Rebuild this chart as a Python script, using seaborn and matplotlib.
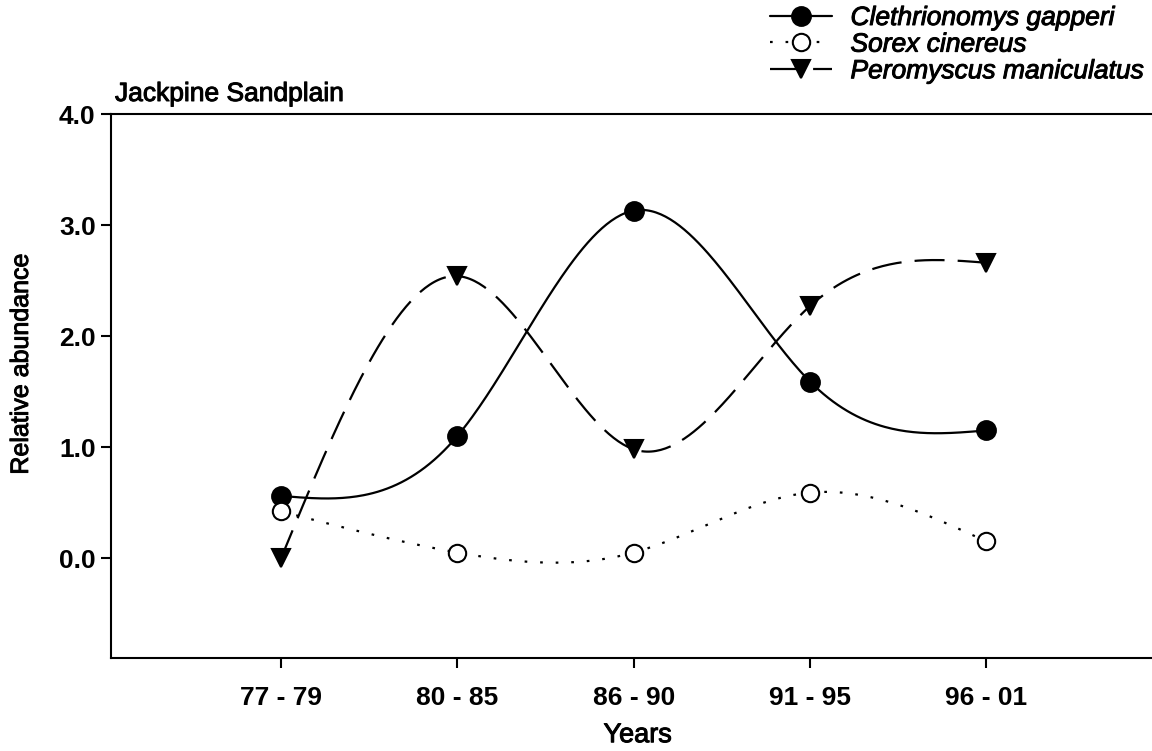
import numpy as np
import pandas as pd
import matplotlib
matplotlib.use("Agg")
import matplotlib.pyplot as plt
import matplotlib.patheffects as pe
from matplotlib.lines import Line2D
import seaborn as sns

# Relative abundance of small mammals by trapping period
periods = ["77 - 79", "80 - 85", "86 - 90", "91 - 95", "96 - 01"]
clethrionomys = [0.56, 1.10, 3.13, 1.59, 1.15]
sorex = [0.42, 0.05, 0.05, 0.59, 0.15]
peromyscus = [0.00, 2.54, 0.98, 2.27, 2.66]
species = ["Clethrionomys gapperi", "Sorex cinereus", "Peromyscus maniculatus"]
y_ticks = [0.0, 1.0, 2.0, 3.0, 4.0]


def natural_spline(x, y, n=300):
    """Smooth curve through the points (natural cubic spline)."""
    x = np.asarray(x, float)
    y = np.asarray(y, float)
    k = len(x)
    h = np.diff(x)
    A = np.zeros((k, k))
    b = np.zeros(k)
    A[0, 0] = A[-1, -1] = 1.0
    for i in range(1, k - 1):
        A[i, i - 1] = h[i - 1]
        A[i, i] = 2 * (h[i - 1] + h[i])
        A[i, i + 1] = h[i]
        b[i] = 3 * ((y[i + 1] - y[i]) / h[i] - (y[i] - y[i - 1]) / h[i - 1])
    c = np.linalg.solve(A, b)
    bb = (y[1:] - y[:-1]) / h - h * (c[1:] + 2 * c[:-1]) / 3
    d = (c[1:] - c[:-1]) / (3 * h)
    xs = np.linspace(x[0], x[-1], n)
    idx = np.clip(np.searchsorted(x, xs, side="right") - 1, 0, k - 2)
    dx = xs - x[idx]
    ys = y[idx] + bb[idx] * dx + c[idx] * dx ** 2 + d[idx] * dx ** 3
    return xs, ys


sns.set_style("ticks")
plt.rcParams["font.family"] = ["Liberation Sans", "DejaVu Sans"]
plt.rcParams["text.color"] = "black"
plt.rcParams["axes.labelcolor"] = "black"

heavy = [pe.withStroke(linewidth=0.7, foreground="black")]

fig = plt.figure(figsize=(11.52, 7.51), dpi=100)
ax = fig.add_axes([111 / 1152, 93 / 751, 1041 / 1152, 544 / 751])

pos = np.arange(len(periods))
LW = 1.6
styles = [
    dict(values=clethrionomys, ls="-", marker="o", face="black", ms=13.5),
    dict(values=sorex, ls=(0, (1.2, 5.8)), marker="o", face="white", ms=12.5),
    dict(values=peromyscus, ls=(0, (13.5, 5.9)), marker="v", face="black", ms=13),
]

handles = []
for name, st in zip(species, styles):
    xs, ys = natural_spline(pos, st["values"])
    curve = pd.DataFrame({"x": xs, "y": ys})
    sns.lineplot(data=curve, x="x", y="y", sort=False, ax=ax, color="black",
                 linewidth=LW, linestyle=st["ls"], zorder=2)
    pts = pd.DataFrame({"x": pos, "y": st["values"]})
    sns.lineplot(data=pts, x="x", y="y", ax=ax, linestyle="none",
                 marker=st["marker"], markersize=st["ms"],
                 markerfacecolor=st["face"], markeredgecolor="black",
                 markeredgewidth=1.5, zorder=3)
    handles.append(Line2D([0], [0], color="black", linewidth=LW, linestyle=st["ls"],
                          marker=st["marker"], markersize=st["ms"],
                          markerfacecolor=st["face"], markeredgecolor="black",
                          markeredgewidth=1.5))

ax.set_xlim(-0.965, 4.94)
ax.set_ylim(-0.9, 4.0)
ax.set_xticks(pos)
ax.set_xticklabels(periods)
ax.set_yticks(y_ticks)
ax.set_yticklabels([f"{v:.1f}" for v in y_ticks])

for side in ["left", "bottom", "top"]:
    ax.spines[side].set_visible(True)
    ax.spines[side].set_linewidth(1.5)
    ax.spines[side].set_color("black")
ax.spines["right"].set_visible(False)

ax.tick_params(axis="both", direction="out", length=7, width=1.5,
               colors="black", labelcolor="black")
ax.tick_params(axis="x", pad=13)
ax.tick_params(axis="y", pad=4)
for lab in ax.get_xticklabels() + ax.get_yticklabels():
    lab.set_fontsize(19)
    lab.set_fontweight("bold")

ax.set_xlabel("Years", fontsize=19.5, path_effects=heavy)
ax.set_ylabel("Relative abundance", fontsize=18, path_effects=heavy)
ax.xaxis.set_label_coords(0.506, -0.118)
ax.yaxis.set_label_coords(-0.075, 0.54)

fig.text(115 / 1152, 1 - 101 / 751, "Jackpine Sandplain", fontsize=19,
         ha="left", va="baseline", path_effects=heavy)

leg = fig.legend(handles, species, loc="upper left",
                 bbox_to_anchor=(770 / 1152, 1 - 6 / 751),
                 bbox_transform=fig.transFigure, frameon=False,
                 prop={"size": 19, "style": "italic"},
                 handlelength=2.35, handletextpad=0.7, labelspacing=0.1,
                 borderpad=0.0, borderaxespad=0.0)
for t in leg.get_texts():
    t.set_color("black")
    t.set_path_effects(heavy)

fig.savefig("out.png", dpi=100)
